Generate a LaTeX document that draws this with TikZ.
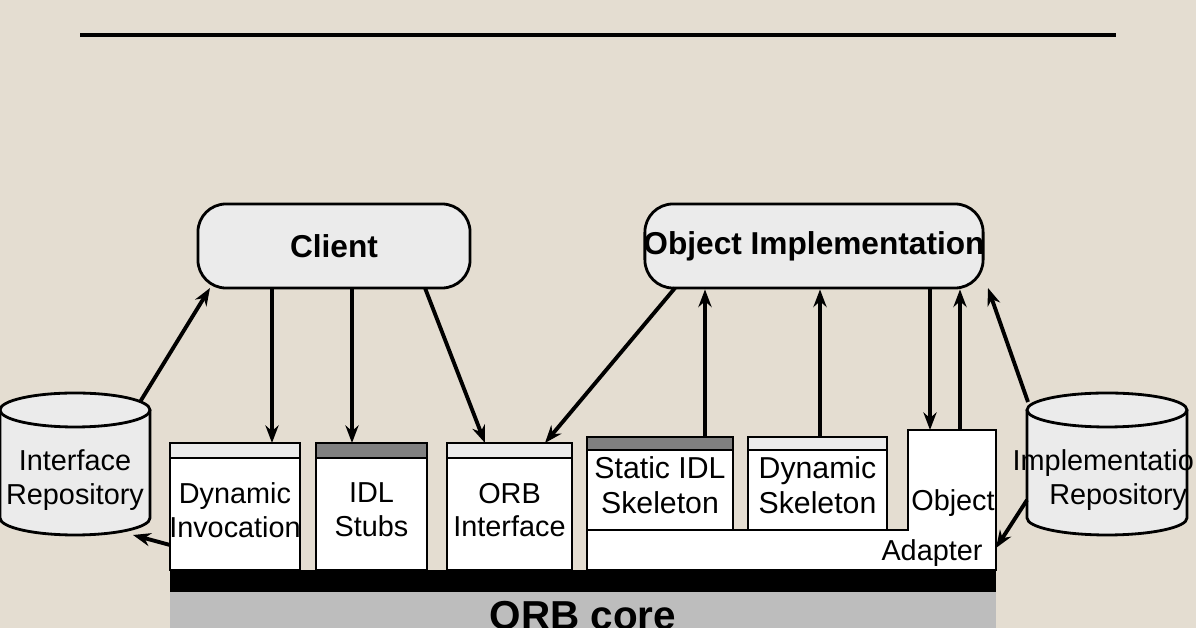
\documentclass[tikz,border=0pt]{standalone}
\usepackage{fontspec}
\setmainfont{Liberation Sans}
\usetikzlibrary{shapes.geometric, arrows.meta, positioning}
\definecolor{paper}{HTML}{E4DDD1}
\definecolor{boxgray}{HTML}{EBEBEB}
\definecolor{coregray}{HTML}{BDBDBD}
% drum for a repository: centre x, half width
\newcommand{\repoDrum}[2]{%
  \draw[thick, fill=boxgray] ({#1-#2},410) -- ({#1-#2},518) arc[start angle=180, end angle=0, x radius=#2, y radius=17] -- ({#1+#2},410);
  \draw[thick, fill=boxgray] (#1,410) ellipse[x radius=#2, y radius=17];
}

\begin{document}
\begin{tikzpicture}[x=0.01cm, y=-0.01cm,
        top/.style={rectangle, rounded corners=8pt, draw, thick, fill=boxgray, inner sep=0pt, font=\fontsize{9}{10}\selectfont\bfseries},
        stack/.style={rectangle, inner sep=0pt, align=center, font=\fontsize{8.2}{9.6}\selectfont},
        arrow/.style={-{Stealth[length=5pt]}, line width=1.1pt}
    ]
        \fill[paper] (0,0) rectangle (1196,628);
        \useasboundingbox (0,0) rectangle (1196,628);
        \draw[very thick] (80,35) -- (1116,35);

        % Top boxes
        \node[top, minimum width=2.72cm, minimum height=0.84cm] (client) at (334,246) {Client};
        \node[top, minimum width=3.38cm, minimum height=0.84cm] (impl) at (814,246) {\makebox[3.3cm]{Object Implementation}};

        % Repositories
        \repoDrum{75}{75}
        \node[stack] (ir) at (75,480) {Interface\\Repository};
        \repoDrum{1107}{80}
        \node[stack, anchor=west] (imr) at (1012,480) {Implementatio\\\hspace*{0.3cm}Repository};

        % ORB core
        \fill[coregray] (170,592) rectangle (996,628);
        \fill[black] (170,570) rectangle (996,592);
        \node[font=\fontsize{11.5}{12}\selectfont\bfseries] (core) at (583,616) {ORB core};

        % Client side
        \foreach \n/\xa/\xb/\hc/\t in {di/170/300/boxgray/Dynamic\\Invocation, stub/316/427/gray/IDL\\Stubs, oi/447/572/boxgray/ORB\\Interface} {
            \draw[thick, fill=white] (\xa,443) rectangle (\xb,570);
            \draw[thick, fill=\hc] (\xa,443) rectangle (\xb,458);
            \node[stack] (\n) at ({(\xa+\xb)/2},510) {\t};
        }

        % Object adapter
        \draw[thick, fill=white] (587,530) -- (908,530) -- (908,430) -- (996,430) -- (996,570) -- (587,570) -- cycle;
        \node[font=\fontsize{8.2}{9.6}\selectfont] (oa1) at (953,503) {Object};
        \node[font=\fontsize{8.2}{9.6}\selectfont] (oa2) at (932,553) {Adapter};
        \foreach \n/\xa/\xb/\hc/\t in {ss/587/733/gray/Static IDL\\Skeleton, ds/748/887/boxgray/Dynamic\\Skeleton} {
            \draw[thick, fill=white] (\xa,437) rectangle (\xb,530);
            \draw[thick, fill=\hc] (\xa,437) rectangle (\xb,450);
            \node[stack, font=\fontsize{8.6}{10}\selectfont] (\n) at ({(\xa+\xb)/2},485) {\t};
        }

        % Connector ends
        \coordinate (diT) at (272,443); \coordinate (stT) at (352,443);
        \coordinate (oiT1) at (485,443); \coordinate (oiT2) at (545,443);
        \coordinate (ssT) at (705,437); \coordinate (dsT) at (820,437);
        \coordinate (oaT1) at (930,430); \coordinate (oaT2) at (960,430);
        \coordinate (diL) at (170,545); \coordinate (oaR) at (996,548);
        \coordinate (irT) at (140,402); \coordinate (irB) at (133,535);
        \coordinate (imrT) at (1028,402); \coordinate (imrL) at (1027,500);
        \coordinate (clA) at (210,288); \coordinate (clB) at (425,288);
        \coordinate (imA) at (675,288); \coordinate (imB) at (988,288);

        % Arrows
        \draw[arrow] (irT) -- (clA);
        \draw[arrow] (client.south -| diT) -- (diT);
        \draw[arrow] (client.south -| stT) -- (stT);
        \draw[arrow] (clB) -- (oiT1);
        \draw[arrow] (imA) -- (oiT2);
        \draw[arrow] (ssT) -- (impl.south -| ssT);
        \draw[arrow] (dsT) -- (impl.south -| dsT);
        \draw[arrow] (impl.south -| oaT1) -- (oaT1);
        \draw[arrow] (oaT2) -- (impl.south -| oaT2);
        \draw[arrow] (imrT) -- (imB);
        \draw[arrow] (diL) -- (irB);
        \draw[arrow] (imrL) -- (oaR);
\end{tikzpicture}
\end{document}
